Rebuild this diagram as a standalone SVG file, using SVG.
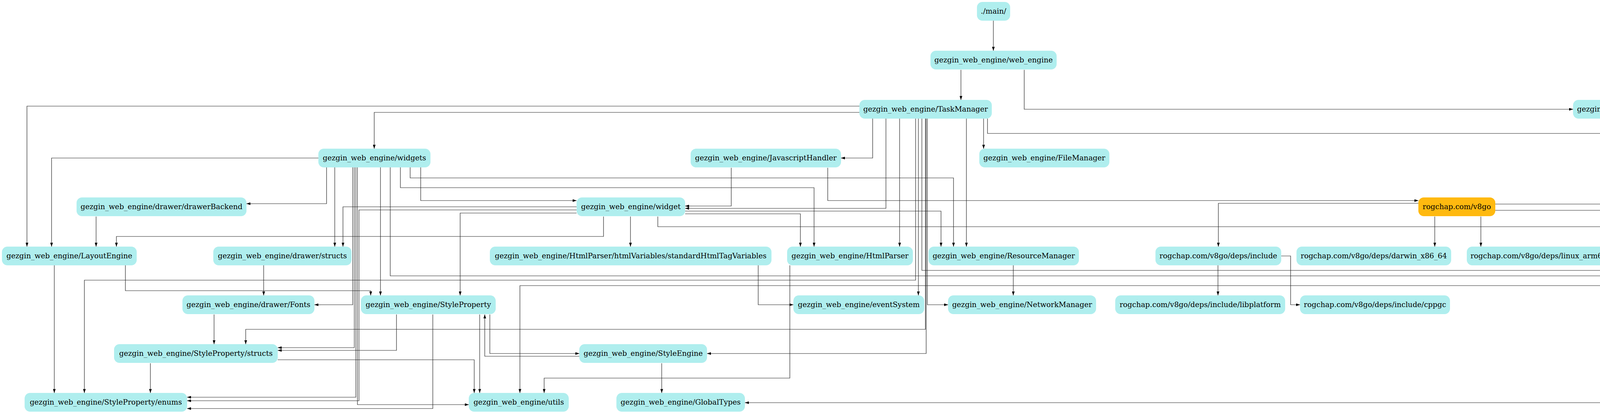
<svg xmlns="http://www.w3.org/2000/svg" width="5757" height="1061" viewBox="0 0 5757 1061">
<style>
.n rect{fill:#afeeee;}
.n.o rect{fill:#ffb90f;}
.n text{font-family:"DejaVu Serif",serif;font-size:18.67px;fill:#000;text-anchor:middle;}
#edges path{fill:none;stroke:#222;stroke-width:1.2;marker-end:url(#ah);}
</style>
<defs>
<marker id="ah" markerUnits="userSpaceOnUse" markerWidth="10" markerHeight="7" refX="10" refY="3.5" orient="auto">
<path d="M0,0 L10,3.5 L0,7 z" fill="#000"/>
</marker>
</defs>
<rect width="5757" height="1061" fill="#fff"/>
<g id="edges">
<path d="M2543,53 V130"/>
<path d="M2460,179 V256"/>
<path d="M2622,179 V280 H4027"/>
<path d="M2200,288 H958 V381"/>
<path d="M2200,272 H69 V632"/>
<path d="M2234,304 V405 H2153"/>
<path d="M2268,304 V534 H1754"/>
<path d="M2303,304 V632"/>
<path d="M2344,304 V718 H216 V1007"/>
<path d="M2351,304 V757"/>
<path d="M2360,304 V693 H5349 V757"/>
<path d="M2369,304 V844 H629 V882"/>
<path d="M2371,304 V906 H1810"/>
<path d="M2374,304 V781 H2427"/>
<path d="M2474,304 V632"/>
<path d="M2518,304 V381"/>
<path d="M2528,304 V342 H5296 V632"/>
<path d="M4144,304 V781 H5299"/>
<path d="M815,405 H132 V632"/>
<path d="M836,429 V522 H631"/>
<path d="M857,429 V632"/>
<path d="M903,429 V781 H805"/>
<path d="M907,429 V891 H711"/>
<path d="M911,429 V1018 H479"/>
<path d="M915,429 V1037 H1200"/>
<path d="M974,429 V757"/>
<path d="M999,429 V707 H5323 V757"/>
<path d="M1025,429 V481 H2084 V632"/>
<path d="M1050,429 V456 H2441 V632"/>
<path d="M1077,429 V514 H1476"/>
<path d="M1872,430 V528 H1754"/>
<path d="M2119,430 V514 H3631"/>
<path d="M246,555 V632"/>
<path d="M1476,530 H878 V632"/>
<path d="M1476,538 H919 V1027 H479"/>
<path d="M1476,546 H1178 V757"/>
<path d="M1545,555 V606 H298 V632"/>
<path d="M1614,555 V632"/>
<path d="M1684,555 V581 H5193 V632"/>
<path d="M1754,541 H2409 V632"/>
<path d="M1754,548 H2049 V632"/>
<path d="M3631,521 H3119 V632"/>
<path d="M3673,555 V632"/>
<path d="M3791,555 V632"/>
<path d="M3828,523 H4776 V632"/>
<path d="M3828,539 H4235 V632"/>
<path d="M139,680 V1007"/>
<path d="M321,680 V745 H949 V757"/>
<path d="M675,680 V757"/>
<path d="M1941,680 V781 H2031"/>
<path d="M2022,680 V969 H1393 V1007"/>
<path d="M2594,680 V757"/>
<path d="M3118,680 V757"/>
<path d="M3280,656 H3304 V781 H3328"/>
<path d="M5373,680 V757"/>
<path d="M5229,680 V1032 H1907"/>
<path d="M5159,680 V732 H1331 V1007"/>
<path d="M548,806 V882"/>
<path d="M1015,806 V898 H711"/>
<path d="M1108,806 V1047 H479"/>
<path d="M1228,806 V1007"/>
<path d="M1254,806 V906 H1483"/>
<path d="M1483,913 H1241 V806"/>
<path d="M711,922 H1214 V1007"/>
<path d="M385,931 V1007"/>
<path d="M1694,931 V1007"/>
</g>
<g id="n-main" class="n"><rect x="2501" y="5" width="85" height="48" rx="14"/><text x="2543.5" y="35">./main/</text></g>
<g id="n-web" class="n"><rect x="2382" y="130" width="323" height="48" rx="14"/><text x="2543.5" y="160">gezgin_web_engine/web_engine</text></g>
<g id="n-task" class="n"><rect x="2200" y="256" width="339" height="48" rx="14"/><text x="2369.5" y="286">gezgin_web_engine/TaskManager</text></g>
<g id="n-drawer" class="n"><rect x="4027" y="256" width="279" height="48" rx="14"/><text x="4166.5" y="286">gezgin_web_engine/drawer</text></g>
<g id="n-widgets" class="n"><rect x="815" y="381" width="287" height="48" rx="14"/><text x="958.5" y="411">gezgin_web_engine/widgets</text></g>
<g id="n-js" class="n"><rect x="1768" y="381" width="385" height="48" rx="14"/><text x="1960.5" y="411">gezgin_web_engine/JavascriptHandler</text></g>
<g id="n-file" class="n"><rect x="2507" y="381" width="333" height="48" rx="14"/><text x="2673.5" y="411">gezgin_web_engine/FileManager</text></g>
<g id="n-backend" class="n"><rect x="196" y="506" width="435" height="48" rx="14"/><text x="413.5" y="536">gezgin_web_engine/drawer/drawerBackend</text></g>
<g id="n-widget" class="n"><rect x="1476" y="506" width="278" height="48" rx="14"/><text x="1615" y="536">gezgin_web_engine/widget</text></g>
<g id="n-v8go" class="n o"><rect x="3631" y="506" width="197" height="48" rx="14"/><text x="3729.5" y="536">rogchap.com/v8go</text></g>
<g id="n-layout" class="n"><rect x="5" y="632" width="345" height="48" rx="14"/><text x="177.5" y="662">gezgin_web_engine/LayoutEngine</text></g>
<g id="n-dstructs" class="n"><rect x="546" y="632" width="354" height="48" rx="14"/><text x="723" y="662">gezgin_web_engine/drawer/structs</text></g>
<g id="n-htmlvars" class="n"><rect x="1254" y="632" width="721" height="48" rx="14"/><text x="1614.5" y="662">gezgin_web_engine/HtmlParser/htmlVariables/standardHtmlTagVariables</text></g>
<g id="n-html" class="n"><rect x="2015" y="632" width="322" height="48" rx="14"/><text x="2176" y="662">gezgin_web_engine/HtmlParser</text></g>
<g id="n-res" class="n"><rect x="2377" y="632" width="385" height="48" rx="14"/><text x="2569.5" y="662">gezgin_web_engine/ResourceManager</text></g>
<g id="n-inc" class="n"><rect x="2958" y="632" width="322" height="48" rx="14"/><text x="3119" y="662">rogchap.com/v8go/deps/include</text></g>
<g id="n-dx86" class="n"><rect x="3319" y="632" width="396" height="48" rx="14"/><text x="3517" y="662">rogchap.com/v8go/deps/darwin_x86_64</text></g>
<g id="n-larm" class="n"><rect x="3755" y="632" width="368" height="48" rx="14"/><text x="3939" y="662">rogchap.com/v8go/deps/linux_arm64</text></g>
<g id="n-lx86" class="n"><rect x="4165" y="632" width="376" height="48" rx="14"/><text x="4353" y="662">rogchap.com/v8go/deps/linux_x86_64</text></g>
<g id="n-darm" class="n"><rect x="4581" y="632" width="389" height="48" rx="14"/><text x="4775.5" y="662">rogchap.com/v8go/deps/darwin_arm64</text></g>
<g id="n-css" class="n"><rect x="5090" y="632" width="307" height="48" rx="14"/><text x="5243.5" y="662">gezgin_web_engine/CssParser</text></g>
<g id="n-fonts" class="n"><rect x="467" y="757" width="338" height="48" rx="14"/><text x="636" y="787">gezgin_web_engine/drawer/Fonts</text></g>
<g id="n-sprop" class="n"><rect x="924" y="757" width="345" height="48" rx="14"/><text x="1096.5" y="787">gezgin_web_engine/StyleProperty</text></g>
<g id="n-event" class="n"><rect x="2031" y="757" width="335" height="48" rx="14"/><text x="2198.5" y="787">gezgin_web_engine/eventSystem</text></g>
<g id="n-net" class="n"><rect x="2427" y="757" width="379" height="48" rx="14"/><text x="2616.5" y="787">gezgin_web_engine/NetworkManager</text></g>
<g id="n-libp" class="n"><rect x="2855" y="757" width="435" height="48" rx="14"/><text x="3072.5" y="787">rogchap.com/v8go/deps/include/libplatform</text></g>
<g id="n-cppgc" class="n"><rect x="3328" y="757" width="384" height="48" rx="14"/><text x="3520" y="787">rogchap.com/v8go/deps/include/cppgc</text></g>
<g id="n-screen" class="n"><rect x="5299" y="757" width="451" height="48" rx="14"/><text x="5524.5" y="787">gezgin_web_engine/drawer/ScreenProperties</text></g>
<g id="n-sstructs" class="n"><rect x="292" y="882" width="419" height="48" rx="14"/><text x="501.5" y="912">gezgin_web_engine/StyleProperty/structs</text></g>
<g id="n-seng" class="n"><rect x="1483" y="882" width="327" height="48" rx="14"/><text x="1646.5" y="912">gezgin_web_engine/StyleEngine</text></g>
<g id="n-enums" class="n"><rect x="63" y="1007" width="416" height="48" rx="14"/><text x="271" y="1037">gezgin_web_engine/StyleProperty/enums</text></g>
<g id="n-utils" class="n"><rect x="1200" y="1007" width="256" height="48" rx="14"/><text x="1328" y="1037">gezgin_web_engine/utils</text></g>
<g id="n-gtypes" class="n"><rect x="1578" y="1007" width="329" height="48" rx="14"/><text x="1742.5" y="1037">gezgin_web_engine/GlobalTypes</text></g>
</svg>
